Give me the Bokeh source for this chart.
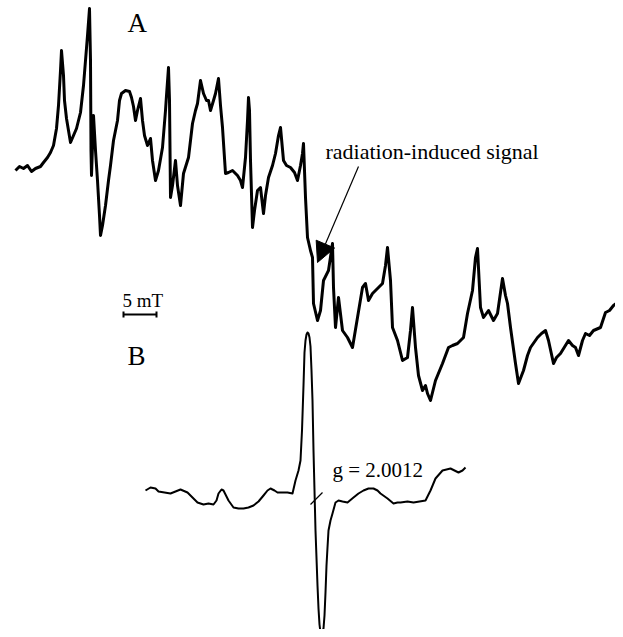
from bokeh.plotting import figure
from bokeh.models import Range1d, Arrow, NormalHead
from bokeh.core.properties import value
from bokeh.embed import file_html
from bokeh.resources import INLINE

# Spectrum A (field position, signal) (screen-like units)
a_field = [15, 19, 23, 27, 31, 35, 40, 43, 47, 50, 53, 56, 58, 60, 61, 63, 64, 66, 68, 70,
           73, 76, 80, 83, 85, 87, 89, 90, 90.5, 91, 93, 95, 97, 99, 100, 102, 105, 108, 110, 113,
           117, 119, 121, 125, 129, 131, 133, 135, 137, 140, 142, 144, 147, 150, 152, 155, 158, 162, 165, 166,
           168, 169, 170, 172, 175, 177, 180, 183, 188, 192, 195, 197, 200, 203, 206, 208, 210, 213, 215, 218,
           220, 222, 225, 228, 232, 237, 240, 242, 245, 247, 248, 249, 250, 252, 254, 257, 260, 263, 265, 268,
           272, 275, 278, 280, 283, 286, 290, 294, 297, 300, 302, 303, 305, 307, 310, 312, 313, 317, 320, 323,
           328, 332, 333, 335, 338, 342, 347, 352, 357, 362, 365, 368, 372, 375, 382, 385, 387, 390, 392, 397,
           402, 407, 410, 412, 415, 418, 422, 425, 427, 430, 435, 442, 448, 452, 457, 463, 467, 472, 475, 477,
           480, 483, 488, 493, 497, 502, 505, 507, 510, 515, 518, 523, 527, 530, 537, 541, 545, 548, 553, 556,
           560, 568, 572, 575, 578, 582, 585, 589, 593, 600, 605, 609, 613, 617, 621]
a_signal = [170, 166, 168, 165, 171, 168, 166, 162, 157, 152, 145, 128, 105, 70, 50, 75, 100, 118, 130, 142,
            135, 128, 112, 85, 60, 35, 8, 60, 150, 175, 115, 150, 180, 215, 235, 225, 205, 180, 165, 140,
            120, 100, 93, 90, 91, 97, 106, 120, 110, 98, 120, 135, 145, 138, 160, 180, 170, 147, 110, 95,
            67, 100, 197, 185, 160, 185, 205, 173, 157, 123, 110, 103, 80, 93, 100, 100, 110, 100, 93, 78,
            105, 127, 173, 172, 170, 175, 180, 187, 157, 120, 97, 110, 160, 227, 210, 190, 187, 213, 195, 177,
            165, 153, 135, 127, 160, 165, 167, 172, 180, 165, 153, 143, 197, 237, 250, 257, 303, 320, 310, 280,
            270, 243, 287, 327, 297, 330, 337, 347, 317, 287, 283, 300, 293, 290, 283, 265, 247, 280, 327, 340,
            360, 357, 330, 307, 347, 375, 390, 385, 393, 400, 380, 363, 347, 345, 343, 337, 313, 290, 257, 248,
            307, 317, 310, 320, 313, 278, 295, 303, 327, 363, 383, 370, 355, 347, 337, 333, 330, 340, 363, 357,
            353, 340, 345, 347, 355, 340, 333, 335, 330, 327, 312, 310, 305, 302, 297]

# Spectrum B (field position, signal)
b_field = [145, 150, 155, 158, 164, 170, 175, 180, 187, 192, 197, 203, 208, 213, 216, 218, 221, 223, 226, 228,
           233, 238, 243, 248, 253, 258, 263, 267, 270, 274, 277, 282, 287, 292, 295, 298, 300, 301.5, 303, 304,
           305, 306, 307, 308, 309, 310, 311, 312, 313, 315, 317, 318, 319, 320, 321, 322, 323, 324, 325, 326,
           327, 328, 330, 332, 335, 338, 342, 347, 353, 358,
           363, 368, 373, 377, 380, 387, 393, 397, 400, 407, 413, 419, 425, 430, 435, 442, 450, 458, 462, 465]
b_signal = [490, 487, 488, 491, 492, 493, 491, 489, 492, 497, 502, 504, 503, 504, 500, 493, 489, 490, 496, 500,
            507, 508, 508, 507, 505, 501, 495, 490, 488, 490, 492, 492, 492, 493, 480, 470, 460, 430, 385, 352,
            340, 334, 332, 333, 337, 346, 370, 400, 450, 530, 585, 608, 624, 632, 634, 633, 628, 615, 592, 565,
            547, 530, 520, 513, 502, 500, 501, 502, 497, 493,
            490, 488, 488, 490, 493, 498, 503, 502, 502, 501, 502, 501, 500, 490, 478, 470, 468, 472, 470, 467]

labels = ["A", "B"]
label_x = [127, 127]
label_y = [22, 355]

p = figure(width=615, height=629, output_backend="svg", toolbar_location=None,
           x_range=Range1d(0, 615), y_range=Range1d(629, 0),
           min_border=0, outline_line_color=None)
p.axis.visible = False
p.grid.visible = False

p.line(a_field, a_signal, line_color="black", line_width=3.0, line_join="round")
p.line(b_field, b_signal, line_color="black", line_width=2.0, line_join="round")

serif = value("Liberation Serif")
p.text(x=label_x, y=label_y, text=labels, text_font=serif, text_font_size="27px",
       text_baseline="alphabetic", text_color="black")
p.text(x=[122], y=[300], text=["5 mT"], text_font=serif, text_font_size="19px",
       text_baseline="alphabetic", text_color="black")
p.text(x=[325], y=[151], text=["radiation-induced signal"], text_font=serif,
       text_font_size="22px", text_baseline="alphabetic", text_color="black")
p.text(x=[332], y=[469], text=["g = 2.0012"], text_font=serif, text_font_size="21px",
       text_baseline="alphabetic", text_color="black")

# 5 mT scale bar
p.segment(x0=[123, 123, 156], y0=[314, 311, 311], x1=[156, 123, 156], y1=[314, 317, 317],
          line_color="black", line_width=2)
# g-marker slash
p.segment(x0=[310], y0=[504], x1=[322], y1=[492], line_color="black", line_width=1.2)

# arrow to radiation-induced signal
p.add_layout(Arrow(x_start=358, y_start=166, x_end=317, y_end=262, line_color="black",
                   line_width=1.2,
                   end=NormalHead(size=20, fill_color="black", line_color="black")))

open("out.html", "w").write(file_html(p, INLINE))
